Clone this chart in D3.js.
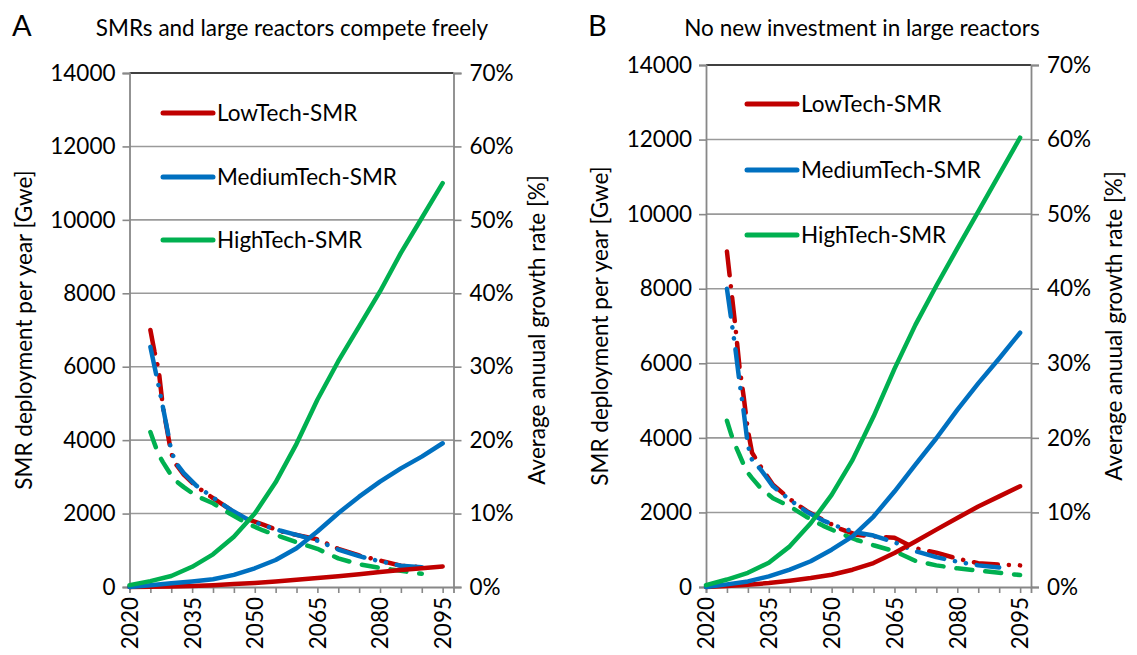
<!DOCTYPE html>
<html><head><meta charset="utf-8">
<script src="https://cdn.jsdelivr.net/npm/d3@7"></script>
<style>
body{margin:0;background:#fff}
svg{display:block}
text{font-family:Lato,"Open Sans",sans-serif;fill:#000}
</style>
</head><body>
<svg id="c" width="1137" height="655"></svg>
<script>
// ---------- data ----------
const seriesNames = ["LowTech-SMR", "MediumTech-SMR", "HighTech-SMR"];
const seriesColors = ["#C00000", "#0070C0", "#00B050"];
const panelLetters = ["A", "B"];
const panelTitles = ["SMRs and large reactors compete freely", "No new investment in large reactors"];

const deployYears = [2020,2025,2030,2035,2040,2045,2050,2055,2060,2065,2070,2075,2080,2085,2090,2095];
// Panel A deployment [GWe]
const deployA_Low  = [0,5,15,30,50,80,110,150,195,245,295,350,410,460,510,560];
const deployA_Med  = [0,50,100,150,210,330,510,735,1055,1510,2010,2460,2870,3230,3550,3915];
const deployA_High = [50,160,300,550,890,1370,2000,2850,3900,5100,6150,7100,8050,9100,10050,11000];
// Panel B deployment [GWe]
const deployB_Low  = [0,30,62,107,170,240,330,464,643,910,1220,1540,1850,2160,2430,2700];
const deployB_Med  = [0,70,150,285,465,690,1000,1360,1890,2560,3280,3990,4750,5460,6130,6820];
const deployB_High = [50,200,380,650,1090,1710,2470,3410,4570,5850,7030,8080,9080,10070,11060,12050];

const rateYears = [2025,2026,2027,2028,2029,2030,2031,2033,2036,2040,2044,2048,2052,2056,2060,2065,2070,2075,2080,2085,2090,2095];
// Panel A average annual growth rate [%]
const rateA_Low  = [35,32,29.5,24.5,21.4,18.2,16.8,15.3,13.7,12.1,10.6,9.3,8.5,7.6,7.1,6.5,5.2,4.3,3.6,2.9,2.7,null];
const rateA_Med  = [32.7,30,27.3,24.5,21.6,18.6,17.0,15.5,13.8,12.2,10.6,9.3,8.4,7.7,7.1,6.3,5.1,4.2,3.5,2.9,2.7,null];
const rateA_High = [21.1,19.5,18,17,16.1,15.2,14.5,13.6,12.4,11.4,10.0,8.7,7.7,6.9,6.1,5.2,3.9,3.1,2.6,2.2,1.8,null];
// Panel B average annual growth rate [%]
const rateB_Low  = [45,40,35,29.5,25.5,21,18,16.2,13.7,11.8,10.2,9.0,7.8,7.0,6.8,6.6,5.2,4.6,3.8,3.2,3.0,2.9];
const rateB_Med  = [40,36,32,27.5,23.5,19,17,15.8,13.5,11.7,10.1,8.9,8.0,7.3,6.9,6.0,4.8,4.0,3.4,2.9,2.6,null];
const rateB_High = [22.3,20.5,19,17.7,16.4,15.3,14.6,13.3,11.9,10.8,9.4,8.2,7.2,6.3,5.6,4.8,3.5,2.9,2.5,2.2,1.9,1.6];

const leftTicks  = [0,2000,4000,6000,8000,10000,12000,14000];
const rightTicks = [0,10,20,30,40,50,60,70];
const xTickYears  = d3.range(2020, 2096, 5);
const xLabelYears = [2020,2035,2050,2065,2080,2095];
const leftTitle  = "SMR deployment per year [Gwe]";
const rightTitle = "Average anuual growth rate [%]";

// ---------- layout ----------
const panels = [
  {x0:129.5, x1:453.5, top:73, bottom:587, letterX:12, titleX:292, legX:163, legY:[113,177,240],
   deploy:[deployA_Low,deployA_Med,deployA_High], rate:[rateA_Low,rateA_Med,rateA_High]},
  {x0:706, x1:1031, top:65, bottom:587, letterX:588, titleX:862, legX:747, legY:[104,170,235],
   deploy:[deployB_Low,deployB_Med,deployB_High], rate:[rateB_Low,rateB_Med,rateB_High]}
];
const dashes = ["24 11 0.1 11", "28 11 0.1 11 0.1 11", "16 13"];

const svg = d3.select("#c");
const FS = 22.5;

panels.forEach((p, pi) => {
  const g = svg.append("g");
  const x = d3.scaleLinear().domain([2020, 2097.6]).range([p.x0, p.x1]);
  const yL = d3.scaleLinear().domain([0, 14000]).range([p.bottom, p.top]);
  const yR = d3.scaleLinear().domain([0, 70]).range([p.bottom, p.top]);

  // gridlines
  g.append("g").selectAll("line").data(leftTicks.filter(t => t > 0)).join("line")
    .attr("x1", p.x0).attr("x2", p.x1)
    .attr("y1", d => yL(d)).attr("y2", d => yL(d))
    .attr("stroke", d => d === 14000 ? "#000" : "#9a9a9a").attr("stroke-width", 1.6);

  // axes
  const axL = d3.axisLeft(yL).tickValues(leftTicks).tickSize(7).tickPadding(7).tickFormat(d3.format("d"));
  const gL = g.append("g").attr("transform", `translate(${p.x0},0)`).call(axL);
  const axR = d3.axisRight(yR).tickValues(rightTicks).tickSize(8).tickPadding(8).tickFormat(d => d + "%");
  const gR = g.append("g").attr("transform", `translate(${p.x1},0)`).call(axR);
  const axB = d3.axisBottom(x).tickValues(xTickYears).tickSize(6).tickPadding(8)
    .tickFormat(d => xLabelYears.includes(d) ? String(d) : "");
  const gB = g.append("g").attr("transform", `translate(0,${p.bottom})`).call(axB);
  [gL, gR, gB].forEach(a => {
    a.select(".domain").attr("stroke", "#888").attr("stroke-width", 1.8);
    a.selectAll(".tick line").attr("stroke", "#888").attr("stroke-width", 1.6);
    a.selectAll(".tick text").attr("font-size", FS).attr("font-family", "Lato").attr("fill", "#000");
  });
  gB.selectAll(".tick text")
    .attr("transform", "rotate(-90)")
    .attr("text-anchor", "end").attr("dy", "0.35em")
    .attr("x", -10).attr("y", 0);

  // lines
  const lineL = d3.line().x((d, i) => x(deployYears[i])).y(d => yL(d));
  const lineR = d3.line().defined(d => d != null).x((d, i) => x(rateYears[i])).y(d => yR(d));
  p.rate.forEach((s, si) => {
    g.append("path").datum(s).attr("d", lineR).attr("fill", "none")
      .attr("stroke", seriesColors[si]).attr("stroke-width", 4.5)
      .attr("stroke-linecap", "round").attr("stroke-linejoin", "round")
      .attr("stroke-dasharray", dashes[si]);
  });
  p.deploy.forEach((s, si) => {
    g.append("path").datum(s).attr("d", lineL).attr("fill", "none")
      .attr("stroke", seriesColors[si]).attr("stroke-width", 4.5)
      .attr("stroke-linecap", "round").attr("stroke-linejoin", "round");
  });

  // legend
  seriesNames.forEach((n, si) => {
    g.append("line").attr("x1", p.legX).attr("x2", p.legX + 50)
      .attr("y1", p.legY[si]).attr("y2", p.legY[si])
      .attr("stroke", seriesColors[si]).attr("stroke-width", 5).attr("stroke-linecap", "round");
    g.append("text").attr("x", p.legX + 54).attr("y", p.legY[si]).attr("dy", "0.35em")
      .attr("font-size", FS).text(n);
  });

  // titles
  g.append("text").attr("x", p.letterX).attr("y", 36).attr("font-size", 29).text(panelLetters[pi]);
  g.append("text").attr("x", p.titleX).attr("y", 36).attr("text-anchor", "middle")
    .attr("font-size", FS).text(panelTitles[pi]);
  const cy = (p.top + p.bottom) / 2;
  g.append("text").attr("transform", `translate(${p.x0 - 98},${cy}) rotate(-90)`)
    .attr("text-anchor", "middle").attr("font-size", FS).text(leftTitle);
  g.append("text").attr("transform", `translate(${p.x1 + 91},${cy}) rotate(-90)`)
    .attr("text-anchor", "middle").attr("font-size", FS).text(rightTitle);
});
</script>
</body></html>
